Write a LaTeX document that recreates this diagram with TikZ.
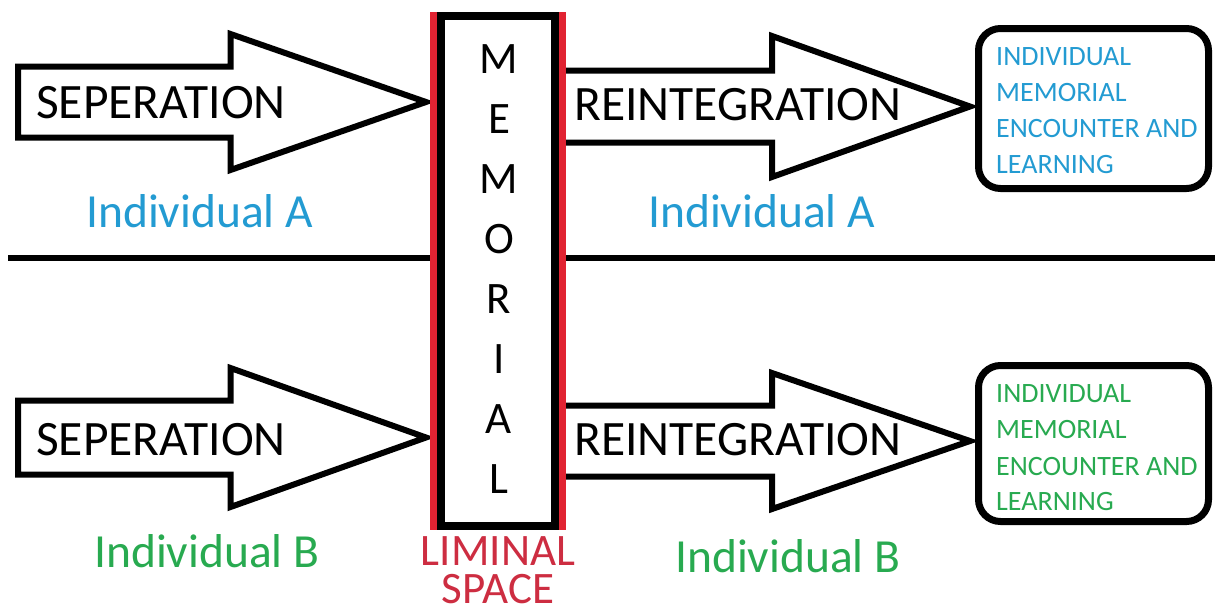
\documentclass[tikz,border=0pt]{standalone}
\usepackage{fontspec}
\setmainfont{Carlito}
\definecolor{indblue}{RGB}{35,155,210}
\definecolor{indgreen}{RGB}{40,170,80}
\definecolor{limred}{RGB}{225,35,50}
\definecolor{limtext}{RGB}{205,45,65}
\begin{document}
\begin{tikzpicture}[x=1pt,y=-1pt,line join=miter,
  fatarrow/.style={draw=black,line width=6pt,fill=white},
  bigtxt/.style={font=\fontsize{49.5}{52}\selectfont,inner sep=0pt,anchor=base west},
  indtxt/.style={font=\fontsize{47.5}{50}\selectfont,inner sep=0pt,anchor=base west},
  lettertxt/.style={font=\fontsize{45}{50}\selectfont,inner sep=0pt,anchor=base},
  boxtxt/.style={font=\fontsize{28}{34}\selectfont,inner sep=0pt,anchor=base west},
  endbox/.style={draw=black,line width=7pt,rounded corners=22pt,fill=white}]
\useasboundingbox (0,0) rectangle (1215,613);
\fill[white] (0,0) rectangle (1215,613);
% divider
\draw[line width=6pt] (8,258) -- (1215,258);
% left arrows
\draw[fatarrow] (18,66.5) -- (230.5,66.5) -- (230.5,34) -- (426,102) -- (230.5,170) -- (230.5,137.5) -- (18,137.5) -- cycle;
\draw[fatarrow] (18,400.5) -- (230.5,400.5) -- (230.5,368) -- (426,437.5) -- (230.5,507) -- (230.5,474.5) -- (18,474.5) -- cycle;
% right arrows
\draw[fatarrow] (558,70.5) -- (772,70.5) -- (772,36) -- (970,106.5) -- (772,177) -- (772,142.5) -- (558,142.5);
\draw[fatarrow] (558,405.5) -- (772,405.5) -- (772,373) -- (970,441) -- (772,509) -- (772,476.5) -- (558,476.5);
% memorial column
\fill[limred] (430,12) rectangle (566,530);
\draw[line width=8pt,fill=white] (441,16) rectangle (555,526);
\foreach \l/\yy [count=\i] in {M/73,E/133,M/193,O/253,R/313,I/373,A/433,L/493}
  \node[lettertxt] (mem\i) at (499,\yy) {\l};
\node[inner sep=0pt,anchor=south,align=center,text depth=0pt,
      font=\fontsize{45}{38.5}\selectfont,text=limtext] (lim) at (498,604) {LIMINAL\\SPACE};
% end boxes
\draw[endbox] (978.5,28.5) rectangle (1208.5,188.5);
\draw[endbox] (978.5,365.5) rectangle (1208.5,521.5);
\foreach \t/\yy [count=\i] in {INDIVIDUAL/65,MEMORIAL/101,ENCOUNTER AND/137,LEARNING/173}
  \node[boxtxt,text=indblue] (ba\i) at (996,\yy) {\t};
\foreach \t/\yy [count=\i] in {INDIVIDUAL/402,MEMORIAL/438,ENCOUNTER AND/475,LEARNING/510}
  \node[boxtxt,text=indgreen] (bb\i) at (996,\yy) {\t};
% labels
\node[bigtxt] (sepA) at (36,118) {SEPERATION};
\node[bigtxt] (sepB) at (36,455) {SEPERATION};
\node[bigtxt] (reA) at (574,120) {REINTEGRATION};
\node[bigtxt] (reB) at (574,455) {REINTEGRATION};
\node[indtxt,text=indblue] (indA1) at (86,227) {Individual A};
\node[indtxt,text=indblue] (indA2) at (648,227) {Individual A};
\node[indtxt,text=indgreen] (indB1) at (94,567) {Individual B};
\node[indtxt,text=indgreen] (indB2) at (675,572) {Individual B};
\end{tikzpicture}
\end{document}
